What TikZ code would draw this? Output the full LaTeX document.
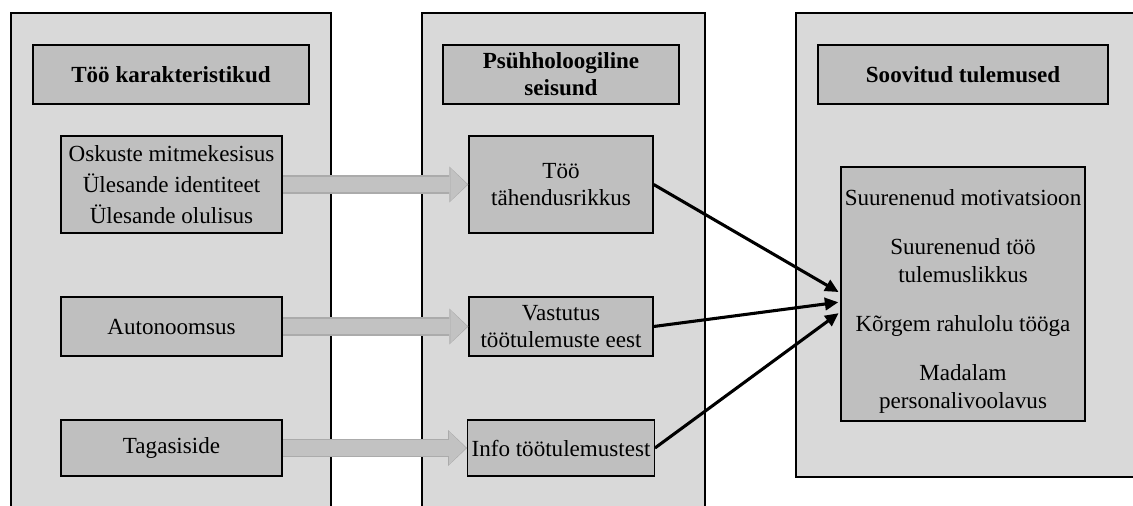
\documentclass[tikz,border=0pt]{standalone}
\usepackage{fontspec}
\setmainfont{Liberation Serif}
\usetikzlibrary{arrows.meta,calc}
\definecolor{panelgray}{HTML}{D9D9D9}
\definecolor{boxgray}{HTML}{BFBFBF}
\definecolor{arrowgray}{HTML}{C2C2C2}
\definecolor{arrowedge}{HTML}{ABABAB}
\newcommand{\pxu}{0.52pt}
\begin{document}
\begin{tikzpicture}[x=0.52pt, y=-0.52pt,
  font=\fontsize{12}{14.5}\selectfont,
  panel/.style={draw, line width=0.8pt, fill=panelgray},
  titlebox/.style={draw, line width=0.7pt, fill=boxgray, align=center, font=\fontsize{12}{14}\selectfont\bfseries, minimum height=59*\pxu},
  itembox/.style={draw, line width=0.7pt, fill=boxgray, align=center, inner xsep=2pt},
  grayarrow/.style={draw=arrowgray, line width=8.3pt, shorten <=0.4pt, shorten >=0.6pt,
    -{Triangle[length=8.8pt 0 0, width=17.2pt 0 0, line width=0pt]},
    preaction={draw=arrowedge, line width=9.4pt, shorten >=0pt,
      -{Triangle[length=9.9pt 0 0, width=18.7pt 0 0, line width=0pt]}}},
  blackarrow/.style={draw, line width=1.6pt, shorten >=1pt,
    -{Triangle[length=7pt 0 0, width=6.4pt 0 0]}}]
\clip (0,0) rectangle (1133,505);
% panels
\node[panel, minimum width=320*\pxu, minimum height=507*\pxu] (p1) at (171,266.5) {};
\node[panel, minimum width=283*\pxu, minimum height=507*\pxu] (p2) at (563.5,266.5) {};
\node[panel, minimum width=344*\pxu, minimum height=464*\pxu] (p3) at (968,245) {};
% titles
\node[titlebox, minimum width=276*\pxu] (t1) at (171,74.5) {Töö karakteristikud};
\node[titlebox, minimum width=236*\pxu] (t2) at (561,74.5) {Psühholoogiline\\seisund};
\node[titlebox, minimum width=290*\pxu] (t3) at (963,74.5) {Soovitud tulemused};
% job characteristics
\node[itembox, minimum width=221*\pxu, minimum height=97*\pxu, font=\fontsize{12}{16}\selectfont] (k1) at (171.5,184.5) {Oskuste mitmekesisus\\Ülesande identiteet\\Ülesande olulisus};
\node[itembox, minimum width=221*\pxu, minimum height=59*\pxu] (k2) at (171.5,326.5) {Autonoomsus};
\node[itembox, minimum width=221*\pxu, minimum height=56*\pxu] (k3) at (171.5,448) {Tagasiside};
% psychological states
\node[itembox, minimum width=184*\pxu, minimum height=97*\pxu] (s1) at (561,184.5) {Töö\\tähendusrikkus};
\node[itembox, minimum width=184*\pxu, minimum height=59*\pxu] (s2) at (561,326.5) {Vastutus\\töötulemuste eest};
\node[itembox, minimum width=184*\pxu, minimum height=56*\pxu] (s3) at (561,448) {Info töötulemustest};
% outcomes
\node[itembox, minimum width=238*\pxu, minimum height=254*\pxu] (out) at (963,294) {\rule{0pt}{16pt}Suurenenud motivatsioon\\[11pt]Suurenenud töö\\tulemuslikkus\\[11pt]Kõrgem rahulolu tööga\\[11pt]Madalam\\personalivoolavus};
\coordinate (in1) at ($(out.west)+(0,-1)$);
\coordinate (in2) at ($(out.west)+(0,8)$);
\coordinate (in3) at ($(out.west)+(0,18)$);
% connectors
\draw[grayarrow] (k1) -- (s1);
\draw[grayarrow] (k2) -- (s2);
\draw[grayarrow] (k3) -- (s3);
\draw[blackarrow] (s1.east) -- (in1);
\draw[blackarrow] (s2.east) -- (in2);
\draw[blackarrow] (s3.east) -- (in3);
\end{tikzpicture}
\end{document}
